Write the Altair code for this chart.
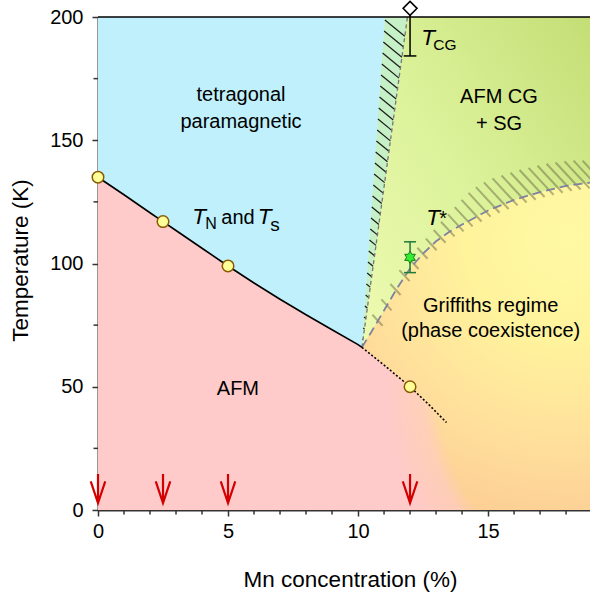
import altair as alt
import numpy as np
import pandas as pd

# ---------------- data ----------------
tn_x = [0, 1, 2, 2.5, 3, 4, 5, 6, 7, 8, 9, 10, 10.15]
tn_y = [135, 127.9, 120.6, 117, 113.4, 106.2, 99, 92.1, 85.5, 79.2, 73.1, 67.1, 66]

dot_x = [10.15, 11, 12, 12.7, 13.4]
dot_y = [66, 58.8, 50, 43, 35.5]

tstar_x = [10.15, 10.5, 11, 11.5, 12, 12.5, 13, 13.5, 14, 15, 16, 17, 18, 18.92]
tstar_y = [66, 72, 81, 90, 98, 104, 109, 112.8, 115.8, 121.5, 125.8, 129, 131.5, 132.8]

pts_x = [0, 2.5, 5, 12]
pts_y = [135, 117, 99, 50]

arrow_x = [0, 2.5, 5, 12]

star_x, star_y, star_lo, star_hi = 12, 102.5, 96.3, 108.8
tcg_x, tcg_y, tcg_lo = 12, 203.5, 184.2

# boundary of the hatched band between paramagnetic and cluster-glass phases
band_left_x = [10.15, 11.04]
band_left_y = [66, 200]
band_right_x = [10.15, 11.9]
band_right_y = [66, 200]

# AFM region continues under the dotted line and fades out towards the Griffiths regime
pink_tail_x = [11, 12, 12.7, 13.4, 16.0]
pink_tail_y = [58.8, 50, 43, 35.5, 0]

x_ticks = [0, 5, 10, 15]
y_ticks = [0, 50, 100, 150, 200]
x_minor = [i for i in range(1, 19) if i % 5]
y_minor = [25, 75, 125, 175]

W, H = 492, 493
XMAX, YMAX = 18.92, 200.0
FONT = "Liberation Sans"


def to_px(x, y):
    return np.asarray(x, float) * W / XMAX, H * (1 - np.asarray(y, float) / YMAX)


def to_data(X, Y):
    return np.asarray(X, float) * XMAX / W, YMAX * (1 - np.asarray(Y, float) / H)


xs = alt.Scale(domain=[0, XMAX], nice=False, zero=False)
ys = alt.Scale(domain=[0, YMAX], nice=False, zero=False)

axis_common = dict(
    labelFont=FONT, labelFontSize=20, labelColor="black", tickColor="#333",
    tickWidth=1.5, tickSize=6, domainColor="#333", domainWidth=2, grid=False,
    titleFont=FONT, titleFontSize=22.5, titleFontWeight="normal", titleColor="black",
    labelFlush=False, titleBaseline="alphabetic", titleAlign="center",
)
xaxis = alt.Axis(values=x_ticks, title="Mn concentration (%)", labelPadding=5,
                 titleX=252, titleY=76, **axis_common)
yaxis = alt.Axis(values=y_ticks, title="Temperature (K)", labelPadding=9,
                 titleX=-71, titleY=243, titleAngle=-90, **axis_common)


def X(f="x"):
    return alt.X(f, type="quantitative", scale=xs, axis=xaxis)


def Y(f="y"):
    return alt.Y(f, type="quantitative", scale=ys, axis=yaxis)


# ---------------- regions ----------------
green = alt.Chart(pd.DataFrame({"x": [10.15], "x2": [XMAX], "y": [60], "y2": [200]})).mark_rect(
    color={"gradient": "linear", "x1": 0, "y1": 1, "x2": 1, "y2": 0,
           "stops": [{"offset": 0, "color": "#eefbb2"}, {"offset": 0.5, "color": "#dcf29a"},
                     {"offset": 1, "color": "#c4de76"}]}
).encode(x=X(), x2="x2", y=Y(), y2="y2")

grif = alt.Chart(pd.DataFrame({"x": tstar_x, "y": tstar_y, "y0": [0] * len(tstar_x)})).mark_area(
    color={"gradient": "radial", "x1": 0.78, "y1": 0.17, "r1": 0, "x2": 0.78, "y2": 0.17, "r2": 0.9,
           "stops": [{"offset": 0, "color": "#fff9a4"}, {"offset": 0.35, "color": "#fff39c"},
                     {"offset": 0.65, "color": "#ffe29c"}, {"offset": 1, "color": "#fdcd95"}]}
).encode(x=X(), y=Y(), y2="y0")


def band_right(x):
    return np.interp(x, band_right_x, band_right_y)


band_df = pd.DataFrame({"x": [band_left_x[0], band_left_x[1], band_right_x[1]],
                        "y": [66, 200, 200],
                        "y0": [66, float(band_right(band_left_x[1])), 200]})
band = alt.Chart(band_df).mark_area(color="#c6f0c6").encode(x=X(), y=Y(), y2="y0")

blue_df = pd.DataFrame({"x": tn_x + [band_left_x[1]], "y": [200] * (len(tn_x) + 1),
                        "y0": tn_y + [band_left_y[1]]})
blue = alt.Chart(blue_df).mark_area(color="#bff0fc").encode(x=X(), y=Y(), y2="y0")

# pink AFM area: radial alpha fade (transparent towards the Griffiths side)
pink_x = tn_x + pink_tail_x
pink_y = tn_y + pink_tail_y
PX, PY = to_px(pink_x, pink_y)
bx0, bx1, by0, by1 = PX.min(), PX.max(), PY.min(), H


def unit(x, y):
    Xp, Yp = to_px(x, y)
    return np.array([(Xp - bx0) / (bx1 - bx0), (Yp - by0) / (by1 - by0)])


Au = unit(pink_tail_x[-2], pink_tail_y[-2])
Bu = unit(pink_tail_x[-1], pink_tail_y[-1])
Mu = (Au + Bu) / 2
d = Bu - Au
nrm = np.array([d[1], -d[0]]) / np.hypot(*d)
cu = Mu + 0.5 * nrm
R = float(np.hypot(*(Au - cu)))
w = 0.13
R2 = R + w
pink = alt.Chart(pd.DataFrame({"x": pink_x, "y": pink_y, "y0": [0] * len(pink_x)})).mark_area(
    color={"gradient": "radial", "x1": float(cu[0]), "y1": float(cu[1]), "r1": 0,
           "x2": float(cu[0]), "y2": float(cu[1]), "r2": R2,
           "stops": [{"offset": 0, "color": "rgba(255,206,190,0)"},
                     {"offset": R / R2, "color": "rgba(255,206,190,0)"},
                     {"offset": (R + 0.3 * w) / R2, "color": "rgba(255,204,198,0.68)"},
                     {"offset": 1, "color": "#ffcaca"}]}
).encode(x=X(), y=Y(), y2="y0")

# ---------------- hatching ----------------
LX, LY = to_px(band_left_x, band_left_y)
RX, RY = to_px(band_right_x, band_right_y)
bR = (RX[1] - RX[0]) / (RY[1] - RY[0])
aR = RX[0] - bR * RY[0]
bL = (LX[1] - LX[0]) / (LY[1] - LY[0])
aL = LX[0] - bL * LY[0]
slope = 0.82
segs = []
for Y0 in np.arange(LY[1] + 3, LY[0] - 8, 11.0):
    X0 = aL + bL * Y0
    t = (aR + bR * Y0 - X0) / (1 - slope * bR)
    segs.append((X0, Y0, X0 + t, Y0 + slope * t))
segs = np.array(segs)
bx1_, by1_ = to_data(segs[:, 0], segs[:, 1])
bx2_, by2_ = to_data(segs[:, 2], segs[:, 3])
band_hatch = alt.Chart(pd.DataFrame({"x": bx1_, "y": by1_, "x2": bx2_, "y2": by2_})).mark_rule(
    color="#1a1a1a", strokeWidth=1.2).encode(x=X(), y=Y(), x2="x2", y2="y2")

TX, TY = to_px(tstar_x, tstar_y)
hs = []
for p in np.arange(TX[0] + 16, W + 30, 9.0):
    yc = np.interp(p, TX, TY)
    s = np.clip((p - (TX[0] + 60)) / 90.0, 0, 1)
    up = 6 + 16 * (3 * s * s - 2 * s ** 3)
    dn = 5.0
    k = 1.08
    hs.append((p - up / k, yc - up, p + dn / k, yc + dn))
hs = np.array(hs)
hx1, hy1 = to_data(hs[:, 0], hs[:, 1])
hx2, hy2 = to_data(hs[:, 2], hs[:, 3])
tstar_hatch = alt.Chart(pd.DataFrame({"x": hx1, "y": hy1, "x2": hx2, "y2": hy2})).mark_rule(
    color="#6b6b45", strokeWidth=2, opacity=0.5).encode(x=X(), y=Y(), x2="x2", y2="y2")

# ---------------- lines ----------------
band_dash = alt.Chart(pd.DataFrame({"x": band_right_x, "y": band_right_y, "o": [0, 1]})).mark_line(
    color="#777", strokeWidth=1.3, strokeDash=[4, 3]).encode(x=X(), y=Y(), order="o")

tstar_line = alt.Chart(pd.DataFrame({"x": tstar_x, "y": tstar_y, "o": range(len(tstar_x))})).mark_line(
    color="#8080a0", strokeWidth=1.8, strokeDash=[9, 5]).encode(x=X(), y=Y(), order="o")

tn_line = alt.Chart(pd.DataFrame({"x": tn_x, "y": tn_y, "o": range(len(tn_x))})).mark_line(
    color="black", strokeWidth=1.6).encode(x=X(), y=Y(), order="o")

dot_line = alt.Chart(pd.DataFrame({"x": dot_x, "y": dot_y, "o": range(len(dot_x))})).mark_line(
    color="black", strokeWidth=1.6, strokeDash=[2, 2]).encode(x=X(), y=Y(), order="o")

# ---------------- markers ----------------
circles = alt.Chart(pd.DataFrame({"x": pts_x, "y": pts_y})).mark_circle(
    size=133, fill="#ffff99", stroke="#8b5a00", strokeWidth=1.5, opacity=1).encode(x=X(), y=Y())

arrow_path = "M0,-1L0,1M-0.5,-0.49L0,1L0.5,-0.49"
arrows = alt.Chart(pd.DataFrame({"x": arrow_x, "y": [8.7] * len(arrow_x)})).mark_point(
    shape=arrow_path, size=841, filled=False, color="#d40000", strokeWidth=2.2, opacity=1
).encode(x=X(), y=Y())

star_err = alt.Chart(pd.DataFrame({"x": [star_x], "y": [star_lo], "y2": [star_hi]})).mark_rule(
    color="#1f7a3a", strokeWidth=1.5).encode(x=X(), y=Y(), y2="y2")
caps_star = alt.Chart(pd.DataFrame({"x": [star_x, star_x], "y": [star_lo, star_hi]})).mark_point(
    shape="M-1,0L1,0", size=144, filled=False, color="#1f7a3a", strokeWidth=1.5, opacity=1
).encode(x=X(), y=Y())

ang = np.arange(12) * np.pi / 6 - np.pi / 2
rad = np.where(np.arange(12) % 2 == 0, 1.0, 0.577)
star_path = "M" + "L".join(f"{r * np.cos(a):.3f},{r * np.sin(a):.3f}" for r, a in zip(rad, ang)) + "Z"
star = alt.Chart(pd.DataFrame({"x": [star_x], "y": [star_y]})).mark_point(
    shape=star_path, size=150, filled=True, fill="#33ee33", stroke="#1a7a1a", strokeWidth=1, opacity=1
).encode(x=X(), y=Y())

tcg_err = alt.Chart(pd.DataFrame({"x": [tcg_x], "y": [tcg_lo], "y2": [tcg_y]})).mark_rule(
    color="black", strokeWidth=1.5).encode(x=X(), y=Y(), y2="y2")
tcg_cap = alt.Chart(pd.DataFrame({"x": [tcg_x], "y": [tcg_lo]})).mark_point(
    shape="M-1,0L1,0", size=160, filled=False, color="black", strokeWidth=1.5, opacity=1
).encode(x=X(), y=Y())
tcg_pt = alt.Chart(pd.DataFrame({"x": [tcg_x], "y": [tcg_y]})).mark_point(
    shape="diamond", size=196, filled=True, fill="white", stroke="black", strokeWidth=1.5, opacity=1
).encode(x=X(), y=Y())

# ---------------- text ----------------
center_labels = pd.DataFrame({
    "t": ["tetragonal", "paramagnetic", "AFM", "AFM CG", "+ SG", "Griffiths regime", "(phase coexistence)"],
    "x": [5.5, 5.5, 5.38, 15.42, 15.42, 15.1, 15.1],
    "y": [165.9, 155.0, 46.7, 165.2, 154.2, 80.4, 70.3],
})
txt_center = alt.Chart(center_labels).mark_text(
    align="center", baseline="alphabetic", font=FONT, fontSize=20, color="black"
).encode(x=X(), y=Y(), text="t")

italic_labels = pd.DataFrame({"t": ["T", "T", "T", "T"],
                              "x": [3.62, 6.14, 12.43, 12.62],
                              "y": [115.9, 115.9, 188.6, 115.6]})
txt_italic = alt.Chart(italic_labels).mark_text(
    align="left", baseline="alphabetic", font=FONT, fontSize=22.5, fontStyle="italic", color="black"
).encode(x=X(), y=Y(), text="t")

plain_labels = pd.DataFrame({"t": ["N", "and", "s", "CG", "*"],
                             "x": [4.12, 4.74, 6.62, 12.89, 13.12],
                             "y": [113.9, 115.9, 113.2, 186.6, 115.6],
                             "s": [16, 20, 19, 15.5, 20]})
txt_plain = alt.Chart(plain_labels).mark_text(
    align="left", baseline="alphabetic", font=FONT, color="black"
).encode(x=X(), y=Y(), text="t", size=alt.Size("s:Q", scale=None))

# ---------------- frame and minor ticks ----------------
top_frame = alt.Chart(pd.DataFrame({"x": [0]})).mark_rule(color="black", strokeWidth=1.5).encode(
    x=alt.value(0), x2=alt.value(W), y=alt.value(0))
xminor = alt.Chart(pd.DataFrame({"x": x_minor})).mark_rule(color="#333", strokeWidth=1.5).encode(
    x=X(), y=alt.value(H), y2=alt.value(H + 4.5))
yminor = alt.Chart(pd.DataFrame({"y": y_minor})).mark_rule(color="#333", strokeWidth=1.5).encode(
    y=Y(), x=alt.value(-4.5), x2=alt.value(0))

chart = alt.layer(
    green, grif, band, blue, pink, band_hatch, band_dash, tstar_hatch, tstar_line,
    tn_line, dot_line, star_err, caps_star, star, tcg_err, tcg_cap, tcg_pt,
    circles, arrows, txt_center, txt_italic, txt_plain, top_frame, xminor, yminor,
).properties(
    width=W, height=H,
    padding={"left": 98, "top": 17, "right": 0, "bottom": 83},
    autosize=alt.AutoSizeParams(type="none"),
    background="white",
).configure_view(strokeWidth=0)

chart.save("out.html", embed_options={"renderer": "svg", "actions": False})
